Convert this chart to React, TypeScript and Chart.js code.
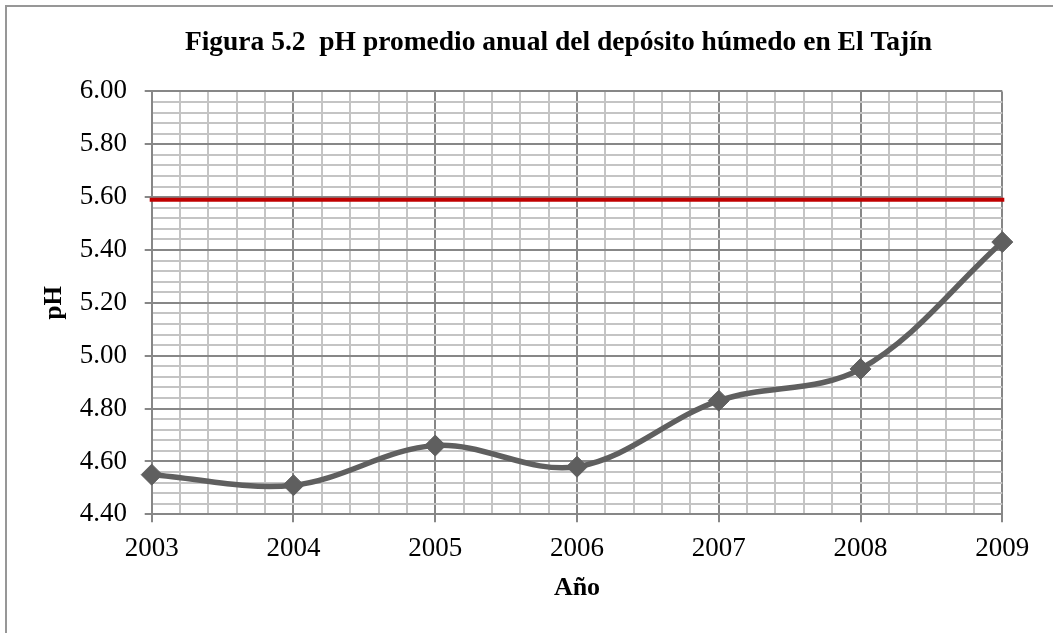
import { useEffect, useRef } from 'react';
import { Chart, registerables } from 'chart.js';

Chart.register(...registerables);

const titleText = 'Figura 5.2  pH promedio anual del depósito húmedo en El Tajín';
const xTitle = 'Año';
const yTitle = 'pH';

const years = [2003, 2004, 2005, 2006, 2007, 2008, 2009];
const phValues = [4.55, 4.51, 4.66, 4.58, 4.83, 4.95, 5.43];
const referencePh = [5.59, 5.59, 5.59, 5.59, 5.59, 5.59, 5.59];

const yMin = 4.4;
const yMax = 6.0;
const yMajorStep = 0.2;
const yMinorStep = 0.04;
const xMajorStep = 1;
const xMinorStep = 0.2;

const FONT = "'Liberation Serif', 'Times New Roman', serif";
const MAJOR = '#878787';
const MINOR = '#c4c4c4';

const isMultiple = (v: number, step: number) => Math.abs(v / step - Math.round(v / step)) < 1e-6;

export default function App() {
  const ref = useRef<HTMLCanvasElement | null>(null);

  useEffect(() => {
    if (!ref.current) return;
    const chart = new Chart(ref.current, {
      type: 'line',
      data: {
        datasets: [
          {
            label: 'Referencia',
            data: years.map((x, i) => ({ x, y: referencePh[i] })),
            borderColor: '#c00000',
            borderWidth: 4,
            borderCapStyle: 'square',
            pointRadius: 0,
            tension: 0,
            clip: false as any,
          },
          {
            label: 'pH',
            data: years.map((x, i) => ({ x, y: phValues[i] })),
            borderColor: '#5f5f5f',
            borderWidth: 5.5,
            tension: 0.35,
            pointStyle: 'rectRot',
            pointRadius: 10.5,
            pointBackgroundColor: '#5f5f5f',
            pointBorderColor: '#5f5f5f',
            pointBorderWidth: 1,
            clip: false as any,
          },
        ],
      },
      options: {
        animation: false,
        responsive: false,
        layout: { padding: 0 },
        plugins: {
          legend: { display: false },
          tooltip: { enabled: false },
          title: {
            display: true,
            text: titleText,
            color: '#000',
            font: { family: FONT, size: 27.5, weight: 'bold', lineHeight: 1.2 },
            padding: { top: 26.7, bottom: 31.7 },
          },
        },
        scales: {
          x: {
            type: 'linear',
            min: years[0],
            max: years[years.length - 1],
            grid: {
              color: (c: any) => (isMultiple(c.tick.value, xMajorStep) ? MAJOR : MINOR),
              tickColor: (c: any) => (isMultiple(c.tick.value, xMajorStep) ? MAJOR : 'rgba(0,0,0,0)'),
              lineWidth: 2,
              tickLength: 8,
            },
            border: { color: MAJOR, width: 2 },
            ticks: {
              stepSize: xMinorStep,
              autoSkip: false,
              maxRotation: 0,
              padding: 10.3,
              color: '#000',
              font: { family: FONT, size: 27, lineHeight: 1.2 },
              callback: (v: any) => (isMultiple(Number(v), xMajorStep) ? String(Math.round(Number(v))) : ''),
            },
            title: {
              display: true,
              text: xTitle,
              color: '#000',
              font: { family: FONT, size: 26, weight: 'bold', lineHeight: 1.2 },
              padding: { top: 0, bottom: 29.2 },
            },
            afterFit: (s: any) => {
              s.height = 118.7;
            },
          },
          y: {
            type: 'linear',
            min: yMin,
            max: yMax,
            grid: {
              color: (c: any) => (isMultiple(c.tick.value, yMajorStep) ? MAJOR : MINOR),
              tickColor: (c: any) => (isMultiple(c.tick.value, yMajorStep) ? MAJOR : 'rgba(0,0,0,0)'),
              lineWidth: 2,
              tickLength: 7,
            },
            border: { color: MAJOR, width: 2 },
            ticks: {
              stepSize: yMinorStep,
              autoSkip: false,
              padding: 17.7,
              color: '#000',
              font: { family: FONT, size: 27, lineHeight: 1.2 },
              callback: (v: any) => (isMultiple(Number(v), yMajorStep) ? Number(v).toFixed(2) : ''),
            },
            title: {
              display: true,
              text: yTitle,
              color: '#000',
              font: { family: FONT, size: 25, weight: 'bold', lineHeight: 1.2 },
              padding: { top: 39.1, bottom: 0 },
            },
            afterFit: (s: any) => {
              s.width = 151.7;
            },
          },
          yRight: {
            type: 'linear',
            position: 'right',
            display: true,
            grid: { display: false, drawTicks: false },
            border: { display: false },
            ticks: { display: false },
            afterFit: (s: any) => {
              s.width = 114.7;
            },
          },
        },
      } as any,
    });
    return () => chart.destroy();
  }, []);

  return (
    <div style={{ position: 'fixed', left: 0, top: 0, width: 1053, height: 633, overflow: 'hidden', background: '#fff' }}>
      <div
        style={{
          position: 'absolute',
          left: 5,
          top: 5,
          width: 1200,
          height: 800,
          border: '2px solid #979797',
          boxSizing: 'border-box',
        }}
      />
      <canvas ref={ref} width={1117} height={633} style={{ position: 'absolute', left: 0, top: 0, width: 1117, height: 633 }} />
    </div>
  );
}
